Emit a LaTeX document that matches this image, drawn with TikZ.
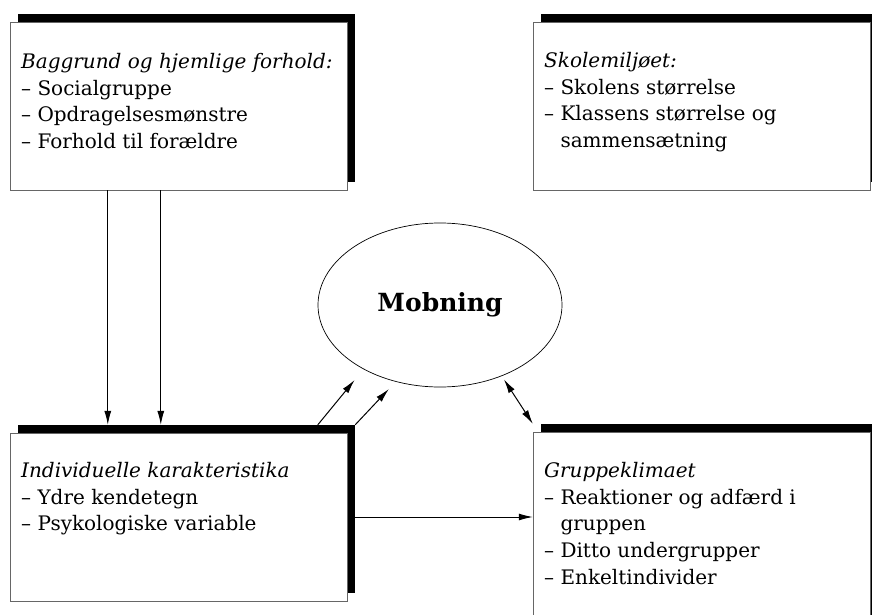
\documentclass[tikz,border=0pt]{standalone}
\usepackage{fontspec}
\setmainfont{DejaVu Serif}
\usetikzlibrary{arrows.meta,shapes.geometric,shadows}

\tikzset{
	boks/.style={draw=black!60, thin, fill=white, inner sep=0pt,
		minimum width=337pt, minimum height=168pt,
		drop shadow={shadow xshift=8pt, shadow yshift=8pt, fill=black, opacity=1}},
	tekst/.style={anchor=north west, align=left, inner sep=0pt,
		font=\fontsize{20}{26.7}\selectfont},
	pil/.style={-{Latex[length=14pt,width=7pt]}, black, line width=1pt},
}

\begin{document}
\begin{tikzpicture}[x=1pt, y=-1pt]
		\useasboundingbox[fill=white] (0, 0) rectangle (872, 615);
		\clip (0, 0) rectangle (872, 615);

		% boksene
		\node[boks] (baggrund) at (178.5, 106) {};
		\node[boks] (skole) at (701.5, 106) {};
		\node[boks] (indiv) at (178.5, 517) {};
		\node[boks, minimum height=208pt] (gruppe) at (701.5, 536) {};

		\node[tekst] (baggrund-txt) at (21, 53) {\textit{Baggrund og hjemlige forhold:}\\
			– Socialgruppe\\
			– Opdragelsesmønstre\\
			– Forhold til forældre};
		\node[tekst] (skole-txt) at (544, 52) {\textit{Skolemiljøet:}\\
			– Skolens størrelse\\
			– Klassens størrelse og\\
			\hphantom{–~}sammensætning};
		\node[tekst] (indiv-txt) at (21, 462) {\textit{Individuelle karakteristika}\\
			– Ydre kendetegn\\
			– Psykologiske variable};
		\node[tekst] (gruppe-txt) at (544, 462) {\textit{Gruppeklimaet}\\
			– Reaktioner og adfærd i\\
			\hphantom{–~}gruppen\\
			– Ditto undergrupper\\
			– Enkeltindivider};

		% mobning
		\node[ellipse, draw, line width=0.7pt, minimum width=244pt, minimum height=164pt,
			font=\fontsize{25}{30}\selectfont\bfseries] (mobning) at (440, 305) {Mobning};

		% pile
		\draw[pil]	([xshift=98pt]baggrund.south west) to ([xshift=98pt, yshift=8pt]indiv.north west);
		\draw[pil]	([xshift=151pt]baggrund.south west) to ([xshift=151pt, yshift=8pt]indiv.north west);
		\draw[pil, shorten >=14pt]	([xshift=308pt, yshift=8pt]indiv.north west) to (mobning.220);
		\draw[pil, shorten >=10pt]	([xshift=8pt, yshift=8pt]indiv.north east) to (mobning.240);
		\draw[pil, {Latex[length=14pt,width=7pt]}-{Latex[length=14pt,width=7pt]}, shorten <=4pt]
			(mobning.311) to ([yshift=8pt]gruppe.north west);
		\draw[pil]	([xshift=8pt]indiv.east) to (indiv.east -| gruppe.west);
	\end{tikzpicture}
\end{document}
